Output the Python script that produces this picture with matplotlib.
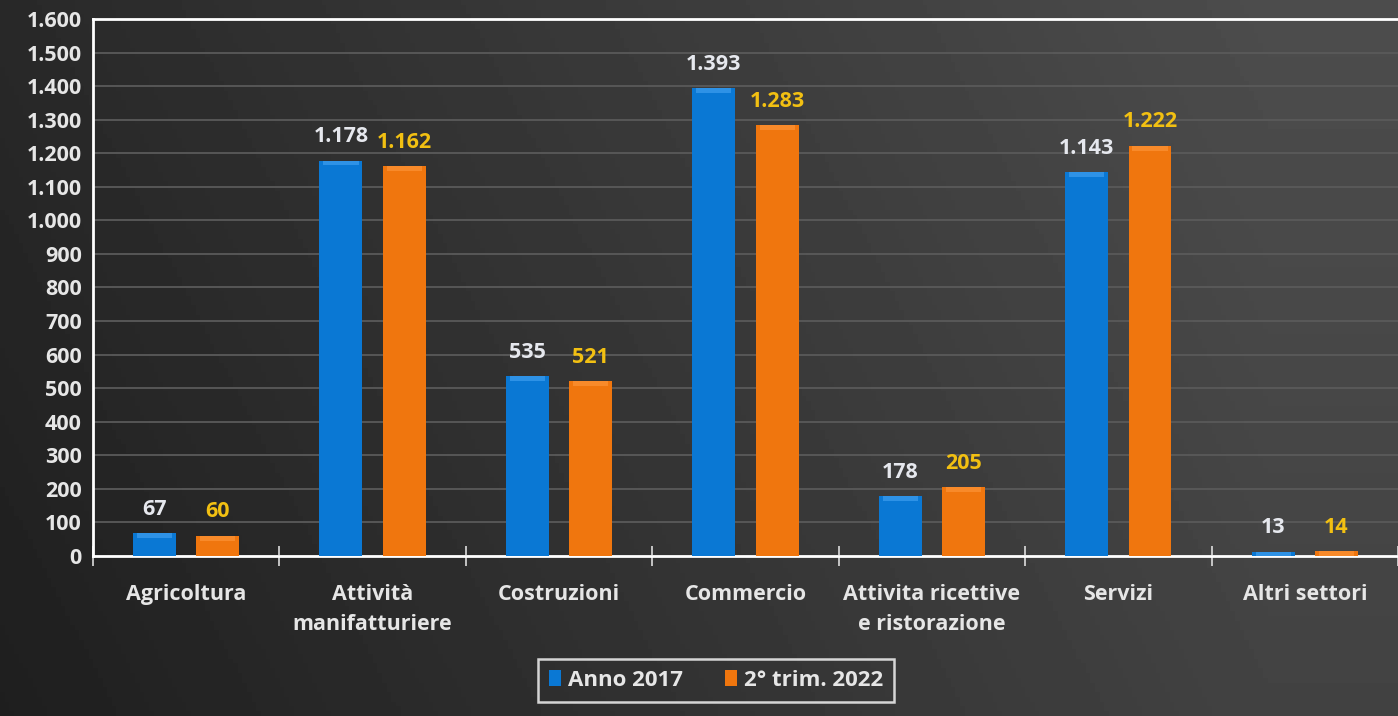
import matplotlib.pyplot as plt
import numpy as np

plt.rcParams['font.family'] = ['Open Sans', 'DejaVu Sans']

# data
categories = ['Agricoltura', 'Attività\nmanifatturiere', 'Costruzioni', 'Commercio',
              'Attivita ricettive\ne ristorazione', 'Servizi', 'Altri settori']
anno_2017 = [67, 1178, 535, 1393, 178, 1143, 13]
trim_2022 = [60, 1162, 521, 1283, 205, 1222, 14]
series_names = ['Anno 2017', '2° trim. 2022']
y_ticks = list(range(0, 1700, 100))

blue = '#0a78d4'
orange = '#f0760e'
fs = 15.5


def fmt(v):
    return f'{v:,}'.replace(',', '.')


fig = plt.figure(figsize=(13.98, 7.16), dpi=100)
fig.patch.set_facecolor('#2b2b2b')

# background gradient
bg = fig.add_axes([0, 0, 1, 1], zorder=-10)
gx = np.linspace(0, 1, 300)
gy = np.linspace(0, 1, 150)
X, Y = np.meshgrid(gx, gy)
grad = 0.16 + 0.14 * np.clip(X * 1.1, 0, 1) - 0.04 * Y
bg.imshow(grad, cmap='gray', vmin=0, vmax=1, aspect='auto', extent=[0, 1, 0, 1])
bg.axis('off')

ax = fig.add_axes([0.0665, 0.2235, 0.9335, 0.75])
ax.patch.set_alpha(0)

x = np.arange(len(categories))
w = 0.23
off = 0.17
b1 = ax.bar(x - off, anno_2017, w, color=blue, zorder=3)
b2 = ax.bar(x + off, trim_2022, w, color=orange, zorder=3)

# soft bevel highlight near the top of each bar
for bars, light in ((b1, '#2e92e6'), (b2, '#f88a2a')):
    for r in bars:
        h = r.get_height()
        band = min(h, 14)
        ax.bar(r.get_x() + r.get_width() / 2, band, r.get_width() * 0.82,
               bottom=h - band, color=light, zorder=4, linewidth=0)

for r, v in zip(b1, anno_2017):
    ax.text(r.get_x() + r.get_width() / 2, v + 40, fmt(v), ha='center', va='bottom',
            color='#e6e8ee', fontsize=fs, fontweight='bold')
for r, v in zip(b2, trim_2022):
    ax.text(r.get_x() + r.get_width() / 2, v + 40, fmt(v), ha='center', va='bottom',
            color='#f2c012', fontsize=fs, fontweight='bold')

ax.set_xlim(-0.5, len(categories) - 0.5)
ax.set_ylim(0, 1600)
ax.set_yticks(y_ticks)
ax.set_yticklabels([fmt(t) for t in y_ticks], color='#e6e6e6', fontsize=fs, fontweight='bold')
ax.tick_params(axis='y', length=0, pad=8)
ax.yaxis.grid(True, color='#5a5a5a', linewidth=1.3, zorder=0)
ax.set_axisbelow(True)

# category boundary ticks
ax.set_xticks(np.arange(len(categories) + 1) - 0.5)
ax.set_xticklabels([])
ax.tick_params(axis='x', direction='inout', length=14, width=1.2, color='#dddddd')
ax.set_xticks(x, minor=True)
ax.set_xticklabels(categories, minor=True, color='#e6e6e6', fontsize=fs,
                   fontweight='bold', linespacing=1.6)
ax.tick_params(axis='x', which='minor', length=0, pad=20)

for s in ('left', 'top', 'bottom'):
    ax.spines[s].set_color('white')
    ax.spines[s].set_linewidth(2)
ax.spines['right'].set_visible(False)

leg = fig.legend([b1, b2], series_names, loc='center', bbox_to_anchor=(0.512, 0.05),
                 ncol=2, frameon=True, handlelength=0.55, handleheight=0.75,
                 handletextpad=0.3, columnspacing=1.9, borderpad=0.5, fancybox=False,
                 borderaxespad=0, prop={'weight': 'bold', 'size': 16})
leg.get_frame().set_facecolor('none')
leg.get_frame().set_edgecolor('white')
leg.get_frame().set_linewidth(1.8)
for t in leg.get_texts():
    t.set_color('#e6e6e6')

fig.savefig('out.png', dpi=100, facecolor=fig.get_facecolor())
